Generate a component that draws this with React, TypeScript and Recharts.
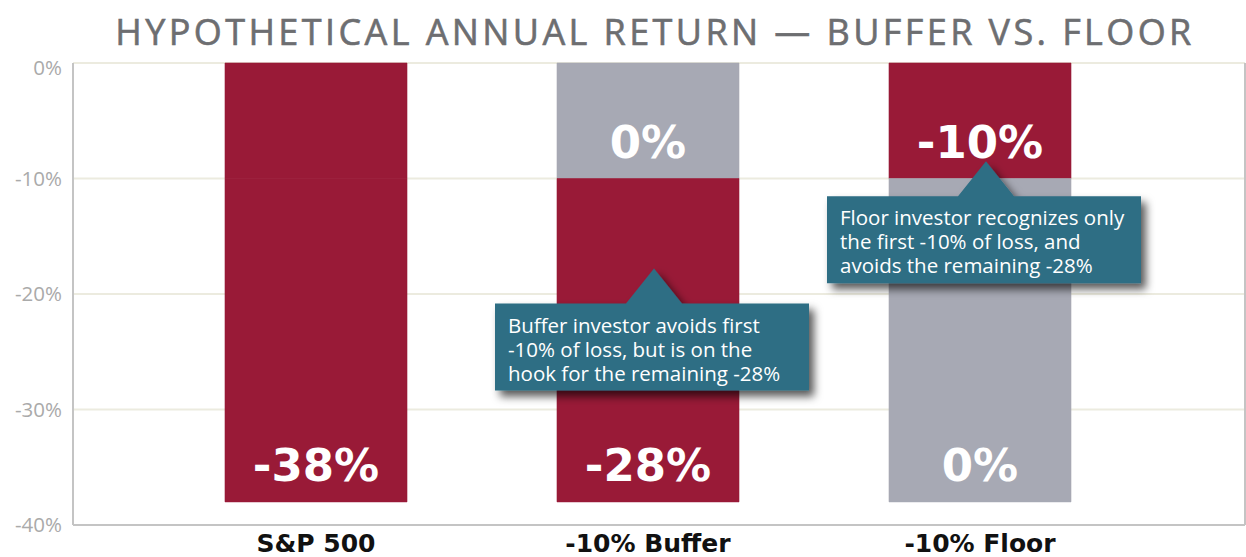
import React from "react";
import {
  BarChart,
  Bar,
  XAxis,
  YAxis,
  CartesianGrid,
  Cell,
  LabelList,
  ReferenceDot
} from "recharts";

const categories = ["S&P 500", "-10% Buffer", "-10% Floor"];
const upperValues = [-10, -10, -10];
const lowerValues = [-28, -28, -28];
const upperLabels = ["", "0%", "-10%"];
const lowerLabels = ["-38%", "-28%", "0%"];
const yTicks = [0, -10, -20, -30, -40];

const bufferNote = ["Buffer investor avoids first", "-10% of loss, but is on the", "hook for the remaining -28%"];
const floorNote = ["Floor investor recognizes only", "the first -10% of loss, and", "avoids the remaining -28%"];
const bufferNoteAt = -17.8;
const floorNoteAt = -8.5;

const RED = "#991a37";
const GRAY = "#a7a9b4";
const TEAL = "#2d6e84";
const upperColors = [RED, GRAY, RED];
const lowerColors = [RED, RED, GRAY];

const data = categories.map((name, i) => ({
  name,
  upper: upperValues[i],
  lower: lowerValues[i],
  upperLabel: upperLabels[i],
  lowerLabel: lowerLabels[i]
}));

const SANS = "'Open Sans', 'DejaVu Sans', sans-serif";
const WIDE = "'DejaVu Sans', sans-serif";

const SegmentLabel = (props: any) => {
  const { x, y, width, height, value } = props;
  if (!value) return null;
  const bottom = Math.max(y, y + height);
  return (
    <text
      x={x + width / 2}
      y={bottom - 21}
      textAnchor="middle"
      fill="#fff"
      fontSize={45}
      fontWeight={700}
      fontFamily={WIDE}
    >
      {value}
    </text>
  );
};

const YTick = (props: any) => {
  const { x, y, payload } = props;
  const shift = payload.value === 0 ? 5 : 0;
  return (
    <text x={x} y={y + shift} dy="0.36em" textAnchor="end" fill="#aaaaaa" fontSize={20.5} fontFamily={SANS}>
      {`${payload.value}%`}
    </text>
  );
};

const callout = (lines: string[], id: string) => (props: any) => {
  const tx = props.cx + 6;
  const ty = props.cy;
  const left = tx - 159;
  const top = ty + 35;
  const w = 314;
  const h = 87;
  return (
    <g>
      <defs>
        <filter id={id} x="-20%" y="-20%" width="140%" height="160%">
          <feDropShadow dx={5} dy={6} stdDeviation={4} floodColor="#000" floodOpacity={0.65} />
        </filter>
      </defs>
      <path
        d={`M${tx},${ty} L${tx + 28},${top} L${left + w},${top} L${left + w},${top + h} L${left},${top + h} L${left},${top} L${tx - 28},${top} Z`}
        fill={TEAL}
        filter={`url(#${id})`}
      />
      {lines.map((t, i) => (
        <text key={i} x={left + 13} y={top + 29 + i * 24} fill="#fff" fontSize={20.5} fontFamily={SANS}>
          {t}
        </text>
      ))}
    </g>
  );
};

export default function App() {
  return (
    <div style={{ position: "absolute", left: 0, top: 0, width: 1246, height: 557, background: "#fff" }}>
      <div
        style={{
          position: "absolute",
          left: 0,
          top: 7,
          width: 1246,
          paddingLeft: 64,
          textAlign: "center",
          boxSizing: "border-box",
          fontFamily: SANS,
          fontSize: 36,
          letterSpacing: 3.4,
          color: "#6d6e71",
          WebkitTextStroke: "0.6px #6d6e71",
          whiteSpace: "nowrap"
        }}
      >
        HYPOTHETICAL ANNUAL RETURN — BUFFER VS. FLOOR
      </div>
      <BarChart width={1246} height={557} data={data} margin={{ top: 63, right: 0, bottom: 0, left: 0 }} barSize={182}>
        <CartesianGrid vertical={false} stroke="#ecebdf" strokeWidth={2} />
        <XAxis
          dataKey="name"
          padding={{ left: 77, right: 99 }}
          height={32}
          tickLine={false}
          tickSize={0}
          tickMargin={9}
          axisLine={{ stroke: "#c4c4c4", strokeWidth: 2 }}
          tick={{ fill: "#111", fontSize: 25, fontWeight: 700, fontFamily: WIDE }}
        />
        <XAxis xAxisId="top" dataKey="name" orientation="top" height={0} tick={false} tickLine={false} axisLine={{ stroke: "#c4c4c4", strokeWidth: 2 }} />
        <YAxis
          domain={[-40, 0]}
          ticks={yTicks}
          width={73}
          tickLine={false}
          tickSize={6}
          tickMargin={5}
          axisLine={{ stroke: "#c4c4c4", strokeWidth: 2 }}
          tick={YTick}
        />
        <YAxis yAxisId="right" orientation="right" domain={[-40, 0]} width={1} tick={false} tickLine={false} axisLine={{ stroke: "#c4c4c4", strokeWidth: 2 }} />
        <Bar dataKey="upper" stackId="r" isAnimationActive={false}>
          {data.map((d, i) => (
            <Cell key={d.name} fill={upperColors[i]} stroke={upperColors[i]} strokeWidth={0.6} />
          ))}
          <LabelList dataKey="upperLabel" content={SegmentLabel} />
        </Bar>
        <Bar dataKey="lower" stackId="r" isAnimationActive={false}>
          {data.map((d, i) => (
            <Cell key={d.name} fill={lowerColors[i]} stroke={lowerColors[i]} strokeWidth={0.6} />
          ))}
          <LabelList dataKey="lowerLabel" content={SegmentLabel} />
        </Bar>
        <ReferenceDot x={categories[1]} y={bufferNoteAt} ifOverflow="visible" shape={callout(bufferNote, "shadowA")} />
        <ReferenceDot x={categories[2]} y={floorNoteAt} ifOverflow="visible" shape={callout(floorNote, "shadowB")} />
      </BarChart>
    </div>
  );
}
